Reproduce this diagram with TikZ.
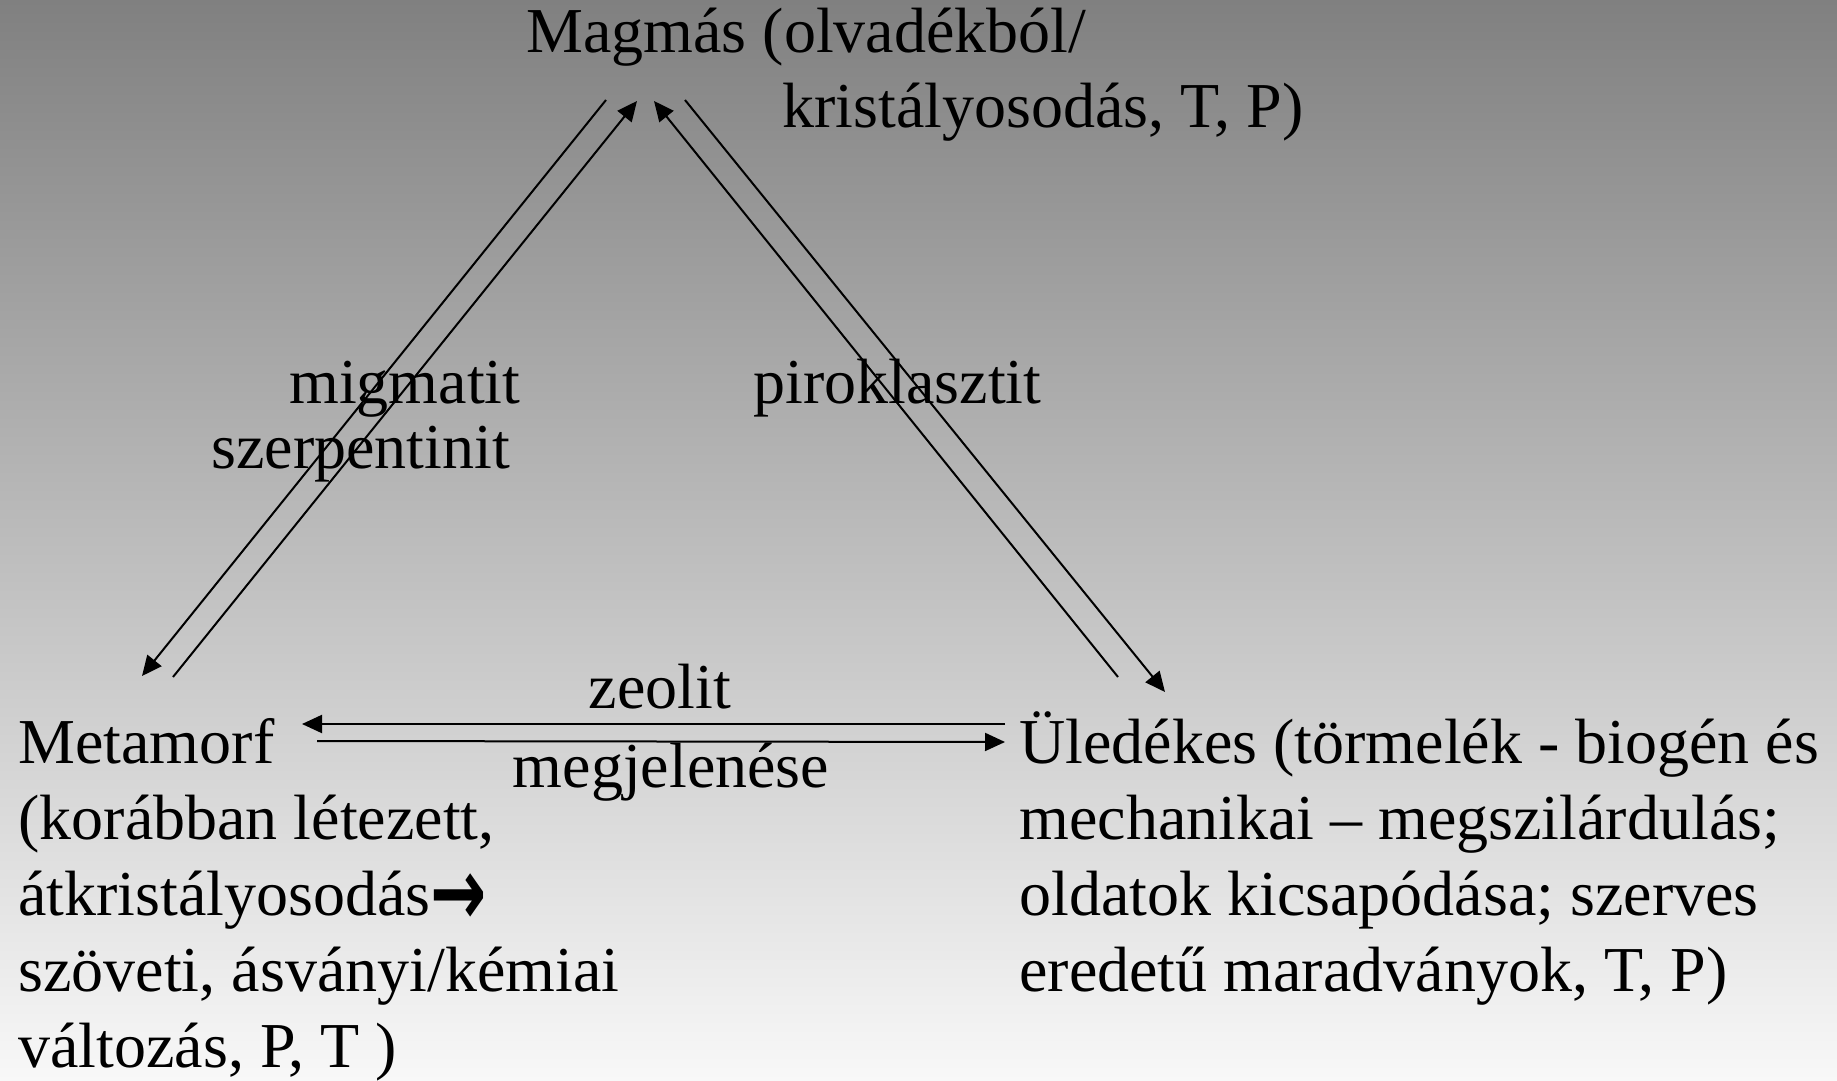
\documentclass[tikz,border=0pt]{standalone}
\usepackage{fontspec}
\setmainfont{Liberation Serif}
\newfontfamily\arrowfont{DejaVu Sans}
\usetikzlibrary{arrows.meta}
\definecolor{bgtop}{RGB}{128,128,128}
\definecolor{bgbot}{RGB}{248,248,248}
\newcommand{\bigarrowglyph}{\raisebox{-5pt}{\scalebox{1.05}[1.5]{\arrowfont\bfseries →}}}
\begin{document}
\begin{tikzpicture}[x=0.5pt,y=-0.5pt,
  lbl/.style={inner sep=0pt, anchor=base west, font=\fontsize{32}{38}\selectfont, align=left},
  conn/.style={line width=1pt, -{Triangle[length=10pt,width=9pt]}}]
\shade[top color=bgtop, bottom color=bgbot] (0,0) rectangle (1837,1081);
\useasboundingbox (0,0) rectangle (1837,1081);
% text (multi-line nodes are anchored at the baseline of their last line)
\node[lbl] (mag1) at (526,53) {Magmás (olvadékból/};
\node[lbl] (mag2) at (782,128) {kristályosodás, T, P)};
\node[lbl] (meta) at (18,1067) {Metamorf\\(korábban létezett,\\átkristályosodás\bigarrowglyph\\szöveti, ásványi/kémiai\\változás, P, T )};
\node[lbl] (ule) at (1019,991) {Üledékes (törmelék - biogén és\\mechanikai – megszilárdulás;\\oldatok kicsapódása; szerves\\eredetű maradványok, T, P)};
\node[lbl, anchor=base] (zeo) at (660,708) {zeolit};
\node[lbl, anchor=base] (megj) at (671,787) {megjelenése};
\node[lbl] (mig) at (289,403) {migmatit};
\node[lbl] (szer) at (211,468) {szerpentinit};
\node[lbl] (pir) at (753,403) {piroklasztit};
% connector end points
\coordinate (a1s) at (606,100); \coordinate (a1e) at (142,676);
\coordinate (a2s) at (173,677); \coordinate (a2e) at (637,101);
\coordinate (b1s) at (1118,677); \coordinate (b1e) at (654,101);
\coordinate (b2s) at (685,100); \coordinate (b2e) at (1165,692);
\coordinate (h1s) at (1005,724); \coordinate (h1e) at (302,724);
\coordinate (h2s) at (317,741); \coordinate (h2e) at (1005,742);
\draw[conn] (a1s) -- (a1e);
\draw[conn] (a2s) -- (a2e);
\draw[conn] (b1s) -- (b1e);
\draw[conn] (b2s) -- (b2e);
\draw[conn] (h1s) -- (h1e);
\draw[conn] (h2s) -- (h2e);
\end{tikzpicture}
\end{document}
